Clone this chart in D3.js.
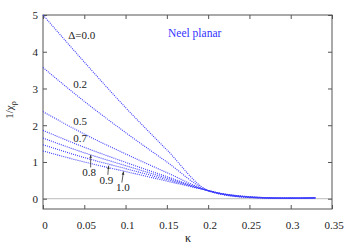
<!DOCTYPE html>
<html><head><meta charset="utf-8">
<script src="https://cdn.jsdelivr.net/npm/d3@7"></script>
<style>body{margin:0;background:#fff}svg{display:block}</style>
</head><body><svg id="c" width="354" height="248"></svg>
<script>
const kappa = [0, 0.05, 0.1, 0.15, 0.2, 0.21, 0.22, 0.23, 0.24, 0.25, 0.26, 0.27, 0.28, 0.30, 0.33];
const deltas = ["0.0", "0.2", "0.5", "0.7", "0.8", "0.9", "1.0"];
const d00 = [5.00, 3.72, 2.48, 1.33, 0.22, 0.15, 0.10, 0.065, 0.045, 0.030, 0.020, 0.015, 0.012, 0.012, 0.020];
const d02 = [3.57, 2.65, 1.80, 1.00, 0.22, 0.155, 0.105, 0.072, 0.050, 0.035, 0.024, 0.018, 0.014, 0.013, 0.020];
const d05 = [2.37, 1.76, 1.22, 0.71, 0.22, 0.16, 0.112, 0.080, 0.057, 0.040, 0.029, 0.021, 0.017, 0.015, 0.022];
const d07 = [1.86, 1.40, 0.99, 0.60, 0.22, 0.163, 0.118, 0.086, 0.062, 0.045, 0.033, 0.024, 0.019, 0.016, 0.022];
const d08 = [1.65, 1.25, 0.90, 0.56, 0.22, 0.165, 0.122, 0.090, 0.066, 0.048, 0.035, 0.026, 0.021, 0.017, 0.023];
const d09 = [1.47, 1.12, 0.82, 0.52, 0.22, 0.168, 0.126, 0.094, 0.070, 0.052, 0.038, 0.028, 0.022, 0.018, 0.024];
const d10 = [1.30, 1.00, 0.74, 0.48, 0.22, 0.170, 0.130, 0.098, 0.074, 0.055, 0.041, 0.030, 0.024, 0.019, 0.025];
const seriesValues = [d00, d02, d05, d07, d08, d09, d10];
const xTicks = [0, 0.05, 0.1, 0.15, 0.2, 0.25, 0.3, 0.35];
const yTicks = [0, 1, 2, 3, 4, 5];
const curveLabels = ["\u0394=0.0", "0.2", "0.5", "0.7", "0.8", "0.9", "1.0"];
// label anchor (data coords) and optional arrow [from, to] in data coords
const labelKappa = [0.0305, 0.0365, 0.0365, 0.0365, 0.0475, 0.0685, 0.0885];
const labelValue = [4.35, 3.0, 2.0, 1.54, 0.62, 0.41, 0.22];
const arrowFrom = [null, null, null, null, [0.0577, 0.85], [0.0785, 0.65], [0.0955, 0.44]];
const arrowTo = [null, null, null, null, [0.0577, 1.19], [0.0795, 0.90], [0.0975, 0.74]];
const title = "Neel planar";

const SERIF = "Liberation Serif, Tinos, Times New Roman, DejaVu Serif, serif";
const svg = d3.select("#c");
const x = d3.scaleLinear().domain([0, 0.35]).range([43, 332]);
const y = d3.scaleLinear().domain([-0.28, 5]).range([209, 15]);
const frame = "#555";

// zero line
svg.append("line").attr("x1", x(0)).attr("x2", x(0.35)).attr("y1", y(0)).attr("y2", y(0))
  .attr("stroke", "#bbb").attr("stroke-width", 1);

// axes
const fmt = d => d === 0 ? "0" : String(d);
const ax = [
  {g: d3.axisBottom(x).tickValues(xTicks).tickFormat(fmt).tickSizeInner(-4).tickSizeOuter(0), t: `translate(0,${y.range()[0]})`},
  {g: d3.axisTop(x).tickValues(xTicks).tickFormat("").tickSizeInner(-4).tickSizeOuter(0), t: `translate(0,${y.range()[1]})`},
  {g: d3.axisLeft(y).tickValues(yTicks).tickFormat(fmt).tickSizeInner(-4).tickSizeOuter(0), t: `translate(${x.range()[0]},0)`},
  {g: d3.axisRight(y).tickValues(yTicks).tickFormat("").tickSizeInner(-4).tickSizeOuter(0), t: `translate(${x.range()[1]},0)`}
];
ax.forEach((a, i) => {
  const g = svg.append("g").attr("transform", a.t).call(a.g).attr("font-family", SERIF).attr("font-size", 11);
  g.select(".domain").remove();
  g.selectAll(".tick line").attr("stroke", frame);
  g.selectAll("text").attr("fill", "#222");
  if (i === 0) g.selectAll("text").attr("dy", "1.55em").attr("dx", 1.5);
  if (i === 2) g.selectAll("text").attr("dx", -2).attr("dy", "0.35em");
});
svg.append("rect").attr("x", x(0)).attr("y", y(5)).attr("width", x(0.35) - x(0)).attr("height", y(-0.28) - y(5))
  .attr("fill", "none").attr("stroke", frame).attr("stroke-width", 1);

// curves
const line = d3.line().x(d => x(d[0])).y(d => y(d[1])).curve(d3.curveMonotoneX);
seriesValues.forEach(vals => {
  svg.append("path").datum(kappa.map((k, i) => [k, vals[i]]))
    .attr("d", line).attr("fill", "none").attr("stroke", "#3a3aff")
    .attr("stroke-width", 1.1).attr("stroke-dasharray", "1,1.1");
});

const tg = svg.append("g").attr("font-family", SERIF);
// labels
curveLabels.forEach((t, i) => {
  tg.append("text").attr("x", x(labelKappa[i])).attr("y", y(labelValue[i]))
    .attr("font-size", 11).attr("fill", "#222").text(t);
});
svg.append("defs").append("marker").attr("id", "ah").attr("viewBox", "0 0 6 6")
  .attr("refX", 5).attr("refY", 3).attr("markerWidth", 5).attr("markerHeight", 5).attr("orient", "auto")
  .append("path").attr("d", "M0,1 L5,3 L0,5 Z").attr("fill", "#333");
arrowFrom.forEach((f, i) => {
  if (!f) return;
  svg.append("line").attr("x1", x(f[0])).attr("y1", y(f[1])).attr("x2", x(arrowTo[i][0])).attr("y2", y(arrowTo[i][1]))
    .attr("stroke", "#333").attr("stroke-width", 0.8).attr("marker-end", "url(#ah)");
});

tg.append("text").attr("x", 168).attr("y", 37).attr("font-size", 11.5).attr("fill", "#3333ff").text(title);

// axis titles
tg.append("text").attr("x", 188).attr("y", 242).attr("text-anchor", "middle").attr("font-size", 12)
  .attr("fill", "#222").text("\u03ba");
const yl = tg.append("text").attr("transform", "translate(13,110) rotate(-90)").attr("text-anchor", "middle")
  .attr("font-size", 11).attr("fill", "#222");
yl.append("tspan").text("1/\u03c7");
yl.append("tspan").attr("font-size", 8).attr("dy", 3).text("\u03c1");
</script></body></html>
